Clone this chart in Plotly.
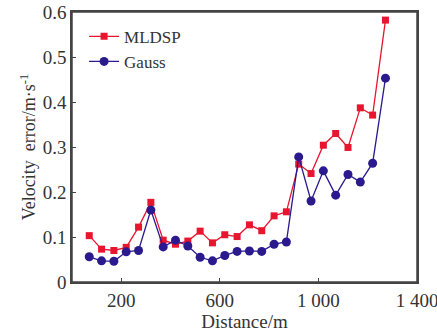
import plotly.graph_objects as go

distance = [70, 120, 170, 220, 270, 320, 370, 420, 470, 520, 570, 620, 670,
            720, 770, 820, 870, 920, 970, 1020, 1070, 1120, 1170, 1220, 1272]
mldsp = [0.103, 0.073, 0.070, 0.077, 0.122, 0.177, 0.093, 0.084, 0.091, 0.113,
         0.087, 0.105, 0.101, 0.127, 0.114, 0.147, 0.156, 0.262, 0.241, 0.304,
         0.330, 0.299, 0.387, 0.371, 0.582]
gauss = [0.056, 0.047, 0.046, 0.067, 0.070, 0.160, 0.078, 0.093, 0.080, 0.055,
         0.047, 0.059, 0.068, 0.069, 0.068, 0.084, 0.089, 0.278, 0.180, 0.247,
         0.193, 0.239, 0.222, 0.264, 0.453]
x_tickvals = [200, 600, 1000, 1400]
x_ticktext = ["200", "600", "1 000", "1 400"]
y_tickvals = [0, 0.1, 0.2, 0.3, 0.4, 0.5, 0.6]
y_ticktext = ["0", "0.1", "0.2", "0.3", "0.4", "0.5", "0.6"]

RED = "#e8152f"
BLUE = "#2b1a8e"
FONT = "Liberation Serif"
TXT = "#333"
FRAME = "#444"

fig = go.Figure()
fig.add_trace(go.Scatter(x=distance, y=mldsp, name="MLDSP", mode="lines+markers",
                         line=dict(color=RED, width=1.3),
                         marker=dict(symbol="square", size=7, color=RED)))
fig.add_trace(go.Scatter(x=distance, y=gauss, name="Gauss", mode="lines+markers",
                         line=dict(color=BLUE, width=1.3),
                         marker=dict(symbol="circle", size=9, color=BLUE)))

axis_common = dict(showline=True, linecolor=FRAME, linewidth=1.5, mirror=True,
                   ticks="inside", ticklen=4, tickcolor=FRAME, tickwidth=1,
                   showgrid=False, zeroline=False, automargin=False,
                   ticklabeloverflow="allow",
                   tickfont=dict(family=FONT, size=19, color=TXT))

fig.update_layout(
    width=437, height=334,
    margin=dict(l=72, r=20, t=12, b=52),
    paper_bgcolor="white", plot_bgcolor="white",
    font=dict(family=FONT, color=TXT),
    showlegend=True,
    legend=dict(x=0.035, y=0.975, xanchor="left", yanchor="top",
                bgcolor="rgba(0,0,0,0)", font=dict(family=FONT, size=17, color=TXT),
                itemwidth=30, tracegroupgap=0),
    xaxis=dict(range=[0, 1400], tickvals=x_tickvals, ticktext=x_ticktext,
               title=dict(text="Distance/m", font=dict(family=FONT, size=19, color=TXT), standoff=2),
               **axis_common),
    yaxis=dict(range=[0, 0.6], tickvals=y_tickvals, ticktext=y_ticktext,
               title=dict(text="Velocity  error/m·s<sup>-1</sup>", font=dict(family=FONT, size=18, color=TXT), standoff=2),
               **axis_common),
    shapes=[dict(type="rect", xref="paper", yref="paper", x0=0, y0=0, x1=1, y1=1,
                 line=dict(color=FRAME, width=1.5), fillcolor="rgba(0,0,0,0)", layer="above")],
)

fig.write_html("out.html", config={"displayModeBar": False},
               post_script="document.body.style.margin='0';document.body.style.overflow='hidden';")
